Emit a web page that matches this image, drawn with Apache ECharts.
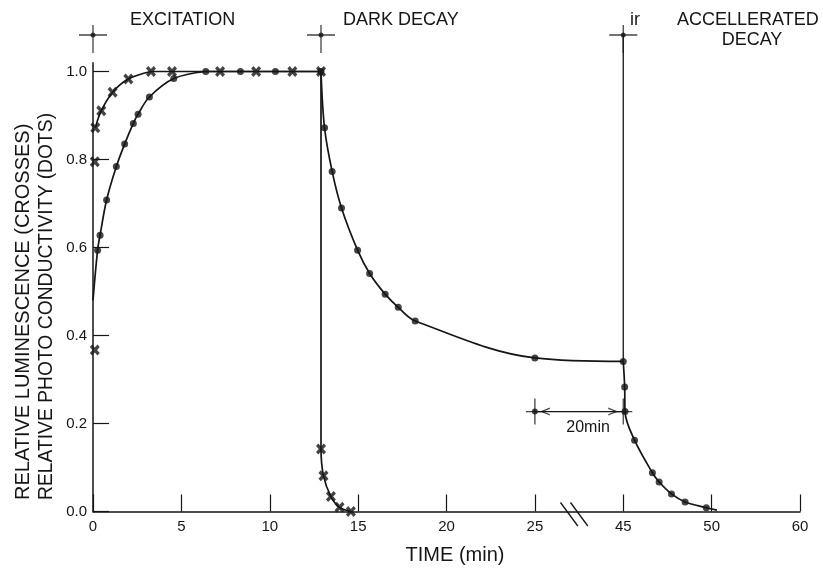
<!DOCTYPE html>
<html><head><meta charset="utf-8">
<script src="https://cdn.jsdelivr.net/npm/echarts@6/dist/echarts.min.js"></script>
<style>html,body{margin:0;padding:0;background:#fff}#c{width:823px;height:569px}</style>
</head><body><div id="c"></div>
<script>
// ---------- data (time in minutes, real time) ----------
const tickLabels = ['0', '5', '10', '15', '20', '25', '45', '50', '60'];
const yTickValues = [0, 0.2, 0.4, 0.6, 0.8, 1.0];

// Relative luminescence (crosses)
const lumTime  = [0.1, 0.1, 0.13, 0.47, 1.11, 2.0, 3.28, 4.47, 7.19, 9.23, 11.28, 12.9, 12.9, 13.04, 13.46, 13.95, 14.59];
const lumValue = [0.367, 0.795, 0.872, 0.911, 0.953, 0.983, 1.0, 1.0, 1.0, 1.0, 1.0, 1.0, 0.142, 0.081, 0.034, 0.0095, 0.0];

// Relative photo conductivity (dots)
const pcTime  = [0.26, 0.4, 0.77, 1.32, 1.79, 2.28, 2.55, 3.19, 4.57, 6.38, 8.34, 10.32, 12.9,
                 13.1, 13.53, 14.06, 14.97, 15.65, 16.53, 17.27, 18.23, 25, 45,
                 45.08, 45.1, 45.64, 46.65, 47.03, 47.73, 48.5, 49.7];
const pcValue = [0.594, 0.628, 0.708, 0.784, 0.835, 0.882, 0.903, 0.942, 0.984, 1.0, 1.0, 1.0, 1.0,
                 0.872, 0.773, 0.69, 0.594, 0.541, 0.494, 0.464, 0.433, 0.349, 0.341,
                 0.283, 0.227, 0.162, 0.088, 0.067, 0.040, 0.0216, 0.0086];
// ends of the drawn photo-conductivity curve (no marker)
const pcCurveStart = [0, 0.48];
const pcCurveEnd = [50.3, 0.003];

// event markers at the top (start of excitation, dark decay, ir)
const eventTime = [0, 12.9, 45];
const eventLevel = 1.083;
const irTime = 45;
const irLevelEnd = 0.341;

// 20 min interval arrow
const arrowTime = [25, 45];
const arrowLevel = 0.227;
const arrowText = '20min';

// ---------- broken time axis ----------
// 0..25 linear, 25..45 squeezed into 5 units, >=45 shifted
function toAxis(t) {
  if (t <= 25) return t;
  if (t >= 45) return t - 15;
  return 25 + (t - 25) * 0.25;
}
const pts = (ts, vs) => ts.map((t, i) => [toAxis(t), vs[i]]);

const lumPts = pts(lumTime, lumValue);
const pcPts = pts(pcTime, pcValue);

const lumRise = lumPts.slice(2, 7);
const lumPlateau = lumPts.slice(6, 12);
const lumDrop = lumPts.slice(11);
const pcRise = [[toAxis(pcCurveStart[0]), pcCurveStart[1]]].concat(pcPts.slice(0, 10));
const pcPlateau = pcPts.slice(9, 13);
const pcDark = pcPts.slice(12, 23);
const pcIr = pcPts.slice(22).concat([[toAxis(pcCurveEnd[0]), pcCurveEnd[1]]]);

const INK = '#151515';
const FONT = 'Liberation Sans';
const LW = 1.7;

const crossSym = 'path://M2.3,0L5,2.7L7.7,0L10,2.3L7.3,5L10,7.7L7.7,10L5,7.3L2.3,10L0,7.7L2.7,5L0,2.3Z';
const eventSym = 'path://M0,9.35H28V10.65H0Z M13.35,0H14.65V28H13.35Z';
const arrowEndSym = 'path://M0,12.35H18V13.65H0Z M8.35,0H9.65V26H8.35Z';
const chevL = 'path://M0,4L10,0L10,1.4L3.4,4L10,6.6L10,8Z';
const chevR = 'path://M10,4L0,0L0,1.4L6.6,4L0,6.6L0,8Z';

function curve(data, smooth) {
  return { type: 'line', data: data, smooth: smooth, showSymbol: false, symbol: 'none',
    lineStyle: { color: INK, width: LW }, silent: true, z: 2, clip: false };
}

const chart = echarts.init(document.getElementById('c'), null, { renderer: 'canvas' });
const a0 = toAxis(arrowTime[0]), a1 = toAxis(arrowTime[1]);

chart.setOption({
  animation: false,
  backgroundColor: '#fff',
  grid: { left: 93, right: 23, top: 62.7, bottom: 57.5 },
  xAxis: {
    type: 'value', min: 0, max: 40, interval: 5,
    axisLine: { lineStyle: { color: INK, width: 1.5 } },
    axisTick: { inside: true, length: 17, lineStyle: { color: INK, width: 1.2 } },
    axisLabel: { formatter: v => tickLabels[Math.round(v / 5)], color: INK, fontSize: 15, fontFamily: FONT, margin: 8 },
    splitLine: { show: false }
  },
  yAxis: {
    type: 'value', min: 0, max: 1.02,
    axisLine: { show: true, lineStyle: { color: INK, width: 1.5 } },
    axisTick: { show: true, inside: true, length: 16, customValues: yTickValues, lineStyle: { color: INK, width: 1.2 } },
    axisLabel: { customValues: yTickValues, formatter: v => v.toFixed(1), color: INK, fontSize: 15, fontFamily: FONT, margin: 6 },
    splitLine: { show: false }
  },
  series: [
    curve(lumRise, 0.35),
    curve(lumPlateau, false),
    curve(lumDrop, 0.3),
    curve(pcRise, 0.35),
    curve(pcPlateau, false),
    curve(pcDark, 0.35),
    curve(pcIr, 0.35),
    // ir vertical line
    { type: 'line', data: [[toAxis(irTime), eventLevel], [toAxis(irTime), irLevelEnd]], symbol: 'none',
      lineStyle: { color: INK, width: 1.3 }, clip: false, silent: true },
    // arrow shaft
    { type: 'line', data: [[a0, arrowLevel], [a1, arrowLevel]], symbol: 'none',
      lineStyle: { color: INK, width: 1.2 }, clip: false, silent: true },
    // crosses
    { type: 'scatter', data: lumPts, symbol: crossSym, symbolSize: [10, 11],
      itemStyle: { color: INK }, clip: false, silent: true, z: 4 },
    // dots
    { type: 'scatter', data: pcPts, symbol: 'circle', symbolSize: 7,
      itemStyle: { color: INK }, clip: false, silent: true, z: 4 },
    // event crosshairs
    { type: 'scatter', data: eventTime.map(t => [toAxis(t), eventLevel]), symbol: eventSym,
      symbolSize: [28, 28], symbolOffset: [0, 4], itemStyle: { color: INK }, clip: false, silent: true, z: 5 },
    { type: 'scatter', data: eventTime.map(t => [toAxis(t), eventLevel]), symbol: 'circle',
      symbolSize: 5, itemStyle: { color: INK }, clip: false, silent: true, z: 5 },
    // arrow end crosshairs + dot
    { type: 'scatter', data: [[a0, arrowLevel], [a1, arrowLevel]], symbol: arrowEndSym,
      symbolSize: [18, 26], itemStyle: { color: INK }, clip: false, silent: true, z: 5 },
    { type: 'scatter', data: [[a0, arrowLevel]], symbol: 'circle', symbolSize: 6,
      itemStyle: { color: INK }, clip: false, silent: true, z: 5 },
    // arrow heads
    { type: 'scatter', data: [
        { value: [a0, arrowLevel], symbol: chevL, symbolOffset: [10, 0] },
        { value: [a1, arrowLevel], symbol: chevR, symbolOffset: [-10, 0] }
      ], symbolSize: [10, 8], itemStyle: { color: INK }, clip: false, silent: true, z: 5 }
  ]
});

// ---------- annotations ----------
function txt(text, x, y, size, align, extra) {
  return Object.assign({ type: 'text', x: x, y: y, silent: true, z: 10,
    style: { text: text, fill: INK, font: size + 'px "' + FONT + '"', fontSize: size, fontFamily: FONT,
      align: align || 'left', verticalAlign: 'middle', textAlign: align || 'left', textVerticalAlign: 'middle' } }, extra || {});
}
const y0 = chart.convertToPixel({ yAxisIndex: 0 }, 0);
const breakX = chart.convertToPixel({ xAxisIndex: 0 }, 27.1);
const amid = chart.convertToPixel({ gridIndex: 0 }, [(a0 + a1) / 2, arrowLevel]);

chart.setOption({
  graphic: [
    txt('EXCITATION', 130, 20, 18),
    txt('DARK DECAY', 343, 20, 18),
    txt('ir', 630, 20, 18),
    txt('ACCELLERATED', 677, 20, 18),
    txt('DECAY', 752, 40, 18, 'center'),
    txt('TIME (min)', 455, 555, 20, 'center'),
    txt('RELATIVE LUMINESCENCE (CROSSES)', 23, 500, 20, 'left', { rotation: Math.PI / 2 }),
    txt('RELATIVE PHOTO CONDUCTIVITY (DOTS)', 47, 500, 19.3, 'left', { rotation: Math.PI / 2 }),
    txt(arrowText, amid[0] + 9, amid[1] + 16, 16, 'center'),
    { type: 'line', silent: true, z: 10, shape: { x1: breakX - 11.5, y1: y0 - 9, x2: breakX + 5.8, y2: y0 + 14.5 },
      style: { stroke: INK, lineWidth: 1.3 } },
    { type: 'line', silent: true, z: 10, shape: { x1: breakX - 1.5, y1: y0 - 9, x2: breakX + 15.8, y2: y0 + 14.5 },
      style: { stroke: INK, lineWidth: 1.3 } }
  ]
});
</script>
</body></html>
